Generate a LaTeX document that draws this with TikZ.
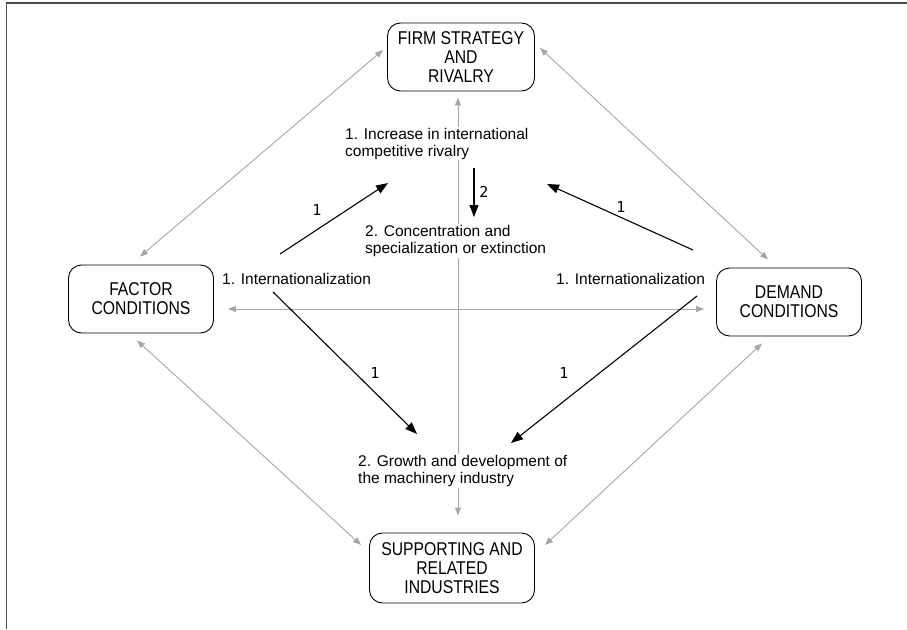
\documentclass[tikz,border=0pt]{standalone}
\usepackage{fontspec}
\setmainfont{Liberation Sans}
\newfontfamily\boxfont[FakeStretch=0.85]{Liberation Sans}
\newfontfamily\numfont{DejaVu Sans Mono}
\usetikzlibrary{arrows.meta}
\definecolor{lgray}{HTML}{A6A6A6}
\definecolor{fgray}{HTML}{4A4A4A}
\begin{document}
\begin{tikzpicture}[x=1pt,y=-1pt,
  pbox/.style={draw, rounded corners=13pt, line width=0.9pt, minimum width=#1,
    minimum height=68pt, align=center, inner sep=0pt,
    font=\boxfont\fontsize{18.5}{19}\selectfont},
  garrow/.style={draw=lgray, line width=0.9pt,
    {Triangle[length=8pt,width=6pt,fill=lgray]}-{Triangle[length=8pt,width=6pt,fill=lgray]}},
  barrow/.style={draw=black, line width=1.1pt,
    -{Triangle[length=12pt,width=9pt]}},
  lbl/.style={align=left, inner sep=1pt, font=\fontsize{15.5}{17}\selectfont},
  wlbl/.style={lbl, fill=white},
  num/.style={inner sep=0pt, font=\numfont\fontsize{15}{15}\selectfont}
]
\useasboundingbox (0,0) rectangle (907,629);
% frame
\draw[fgray, line width=1.5pt] (6.5,629) -- (6.5,3) -- (907,3);

% boxes
\node[pbox=147pt] (firm) at (461,57) {FIRM STRATEGY\\AND\\RIVALRY};
\node[pbox=145pt] (factor) at (141,299) {FACTOR\\CONDITIONS};
\node[pbox=145pt] (demand) at (789,302) {DEMAND\\CONDITIONS};
\node[pbox=165pt, minimum height=70pt] (supp) at (452,568) {SUPPORTING AND\\RELATED\\INDUSTRIES};

% gray double arrows
\draw[garrow] ([shift={(-1,-8)}]factor.north) -- ([shift={(-4,-7)}]firm.west);
\draw[garrow] ([shift={(5,-9)}]firm.east) -- ([shift={(-21,-8)}]demand.north);
\draw[garrow] ([shift={(14,10)}]factor.east) -- ([shift={(-12,7)}]demand.west);
\draw[garrow] ([shift={(-4,7)}]factor.south) -- ([shift={(-8,-23)}]supp.west);
\draw[garrow] ([shift={(-27,7)}]demand.south) -- ([shift={(10,-23)}]supp.east);
\draw[garrow] ([shift={(-3,6)}]firm.south) -- ([shift={(6,-17)}]supp.north);

% text labels
\node[wlbl, anchor=west] (inc) at (344,143.5) {1. Increase in international\\competitive rivalry};
\node[wlbl, anchor=west] (conc) at (364,241) {2. Concentration and\\specialization or extinction};
\node[lbl, anchor=west] (intl) at (221,279) {1. Internationalization};
\node[lbl, anchor=west] (intr) at (555,279) {1. Internationalization};
\node[wlbl, anchor=west] (grow) at (357,471) {2. Growth and development of\\the machinery industry};

% black arrows
\coordinate (a1s) at (280,254);
\coordinate (a1e) at (388,183);
\coordinate (a2s) at (474,168);
\coordinate (a2e) at (474,217);
\coordinate (a3s) at (693,250);
\coordinate (a3e) at (547,184);
\coordinate (a4s) at (273,292);
\coordinate (a4e) at (417,434);
\coordinate (a5s) at (697,296);
\coordinate (a5e) at (511,443);
\draw[barrow] (a1s) -- (a1e);
\draw[barrow] (a2s) -- (a2e);
\draw[barrow] (a3s) -- (a3e);
\draw[barrow] (a4s) -- (a4e);
\draw[barrow] (a5s) -- (a5e);

% arrow numbers
\node[num] (n1) at (317,210) {1};
\node[num] (n2) at (484,192) {2};
\node[num] (n3) at (621,207) {1};
\node[num] (n4) at (375,373) {1};
\node[num] (n5) at (564,373) {1};
\end{tikzpicture}
\end{document}
